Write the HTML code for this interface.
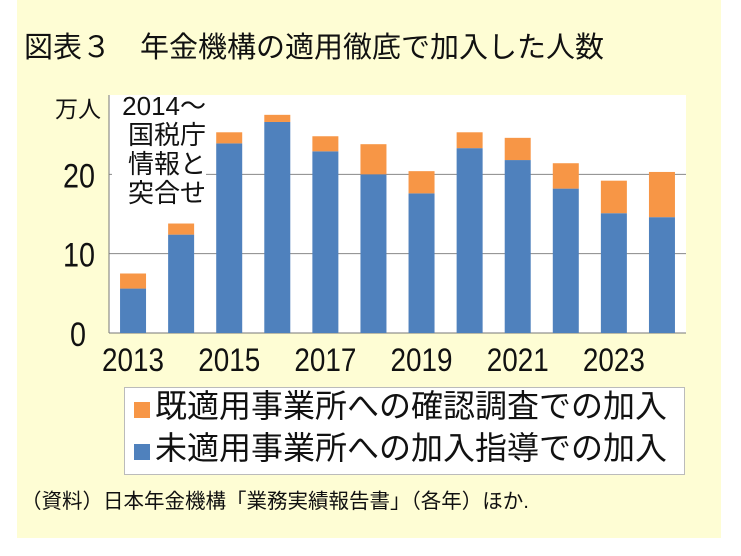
<!DOCTYPE html>
<html><head><meta charset="utf-8"><style>
body{margin:0;width:741px;height:556px;background:#fff;overflow:hidden;font-family:"Liberation Sans","Noto Sans CJK JP",sans-serif;}
#bg{position:absolute;left:17px;top:0;width:704px;height:538px;background:#fefdd4;}
.t{position:absolute;white-space:nowrap;color:#111;}
</style></head><body>
<div id="bg"></div>
<div class="t" style="left:24px;top:24px;font-size:29px;">図表３　年金機構の適用徹底で加入した人数</div>
<svg id="chart" width="741" height="556" style="position:absolute;left:0;top:0" font-family="Liberation Sans, Noto Sans CJK JP, sans-serif"></svg>
<div style="position:absolute;left:112px;top:95px;width:94px;height:116px;background:#fff;"></div>
<div class="t" style="left:114px;top:92px;width:92px;font-size:26px;line-height:29px;text-align:right;">2014～<br>国税庁<br>情報と<br>突合せ</div>
<div style="position:absolute;left:124px;top:387px;width:559px;height:86px;background:#fff;border:1px solid #bbb;"></div>
<div style="position:absolute;left:134px;top:402px;width:16px;height:16px;background:#f79646;"></div>
<div class="t" style="left:155px;top:386px;font-size:32px;line-height:40px;">既適用事業所への確認調査での加入</div>
<div style="position:absolute;left:134px;top:444px;width:16px;height:16px;background:#4f81bd;"></div>
<div class="t" style="left:155px;top:428px;font-size:32px;line-height:40px;">未適用事業所への加入指導での加入</div>
<div class="t" style="left:21px;top:484px;font-size:20.5px;">（資料）日本年金機構「業務実績報告書」（各年）ほか.</div>
<script>
const years=[2013,2014,2015,2016,2017,2018,2019,2020,2021,2022,2023,2024];
const blueVals=[5.6,12.4,23.9,26.6,22.9,20.0,17.6,23.3,21.8,18.2,15.1,14.6];
const orangeVals=[1.9,1.4,1.4,0.9,1.9,3.8,2.8,2.0,2.8,3.2,4.1,5.7];
const yTicks=[0,10,20];
const xLabels=[2013,2015,2017,2019,2021,2023];
const svg=document.getElementById('chart');
const NS='http://www.w3.org/2000/svg';
const X0=109,X1=686,Y0=333,YT=95,YMAX=30;
const band=(X1-X0)/years.length;
const y=v=>Y0-(v/YMAX)*(Y0-YT);
const xc=i=>X0+band*(i+0.5);
function mk(t,a){const e=document.createElementNS(NS,t);for(const k in a)e.setAttribute(k,a[k]);svg.appendChild(e);return e;}
let e=mk('rect',{x:X0,y:YT,width:X1-X0,height:Y0-YT,fill:'#fff'});


yTicks.forEach(v=>{
 if(v>0){const g=mk('line',{x1:X0,x2:X1,y1:y(v),y2:y(v),stroke:'#888','stroke-width':1});
 
 }
 const a={x:v>0?63:70,y:y(v)+13,'font-size':34,fill:'#111',textLength:v>0?32:16,lengthAdjust:'spacingAndGlyphs'};
 const t=mk('text',a);
 t.textContent=v;
 
 
});
let u=mk('text',{x:55,y:117,'font-size':23,fill:'#111'});u.textContent='万人';


let ax=mk('line',{x1:X0,x2:X1,y1:Y0,y2:Y0,stroke:'#777'});


let ay=mk('line',{x1:X0,x2:X0,y1:YT,y2:Y0,stroke:'#777'});


const bw=26;
years.forEach((yr,i)=>{
 const b=mk('rect',{x:xc(i)-bw/2,y:y(blueVals[i]),width:bw,height:Y0-y(blueVals[i]),fill:'#4f81bd'});
 
 
 const top=blueVals[i]+orangeVals[i];
 const o=mk('rect',{x:xc(i)-bw/2,y:y(top),width:bw,height:y(blueVals[i])-y(top),fill:'#f79646'});
 
 
});
xLabels.forEach(l=>{
 const i=years.indexOf(l);
 const t=mk('text',{x:xc(i),y:371,'font-size':32,'text-anchor':'middle',fill:'#111',textLength:62,lengthAdjust:'spacingAndGlyphs'});
 t.textContent=l;
 
 
});
</script>
</body></html>
